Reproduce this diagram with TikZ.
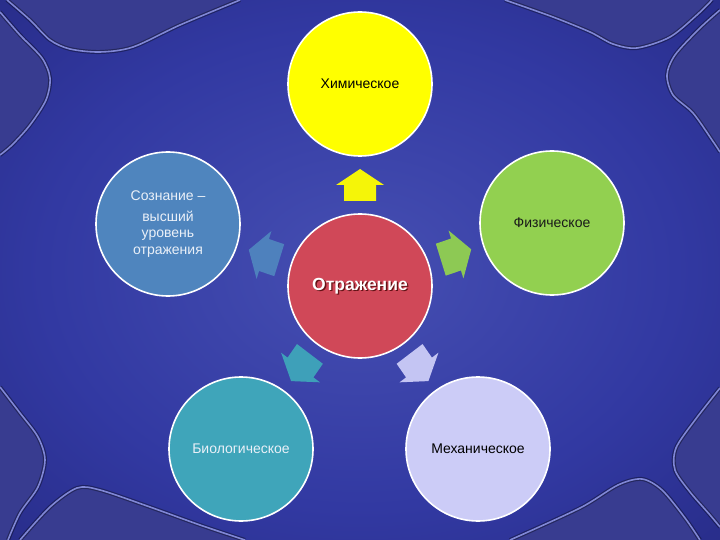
\documentclass[tikz,border=0pt]{standalone}
\usepackage{fontspec}
\setmainfont{Liberation Sans}
\usetikzlibrary{calc}
\definecolor{bgin}{HTML}{464FB2}
\definecolor{bgmid}{HTML}{3239A2}
\definecolor{bgout}{HTML}{1D1F6E}
\definecolor{tabfill}{HTML}{383C90}
\definecolor{tabedge}{HTML}{8087D6}
\definecolor{cyellow}{HTML}{FFFF00}
\definecolor{cgreen}{HTML}{92D050}
\definecolor{cblue}{HTML}{4F85BE}
\definecolor{cred}{HTML}{D04858}
\definecolor{cteal}{HTML}{3FA5BA}
\definecolor{clav}{HTML}{CCCCF7}
\definecolor{lighttext}{HTML}{EAF0F8}
\pgfdeclareradialshading{bgshade}{\pgfpoint{0bp}{0bp}}{color(0bp)=(bgin); color(22bp)=(bgmid); color(52bp)=(bgout); color(80bp)=(bgout)}
\tikzset{
  circ/.style={circle, draw=white, line width=1.6pt, minimum size=144pt, inner sep=0pt, align=center, font=\fontsize{14}{16.5}\selectfont},
  tab/.style={fill=tabfill},
  tabline/.style={draw=tabedge, line width=1.6pt},
  tabshadow/.style={draw=black, opacity=0.35, line width=4pt},
  blockarrow/.style={fill opacity=0.95},
  bigtext/.style={font=\bfseries\fontsize{17.5}{20}\selectfont}
}
\newcommand{\arrowpath}{(0,-16) -- (24,0) -- (16,0) -- (16,16) -- (-16,16) -- (-16,0) -- (-24,0) -- cycle}
\begin{document}
\begin{tikzpicture}[x=1pt,y=-1pt]
\useasboundingbox (0,0) rectangle (720,540);
\shade[shading=bgshade] (0,0) rectangle (720,540);
% decorative tabs
\fill[tab] (0,12) -- plot[smooth] coordinates {(0,12)(20,35)(42,58)(50,78)(46,100)(30,125)(12,145)(0,155)} -- cycle;
\draw[tabshadow] plot[smooth] coordinates {(0,12)(20,35)(42,58)(50,78)(46,100)(30,125)(12,145)(0,155)};
\draw[tabline] plot[smooth] coordinates {(0,12)(20,35)(42,58)(50,78)(46,100)(30,125)(12,145)(0,155)};
\fill[tab] (0,0) -- plot[smooth] coordinates {(7,0)(30,20)(50,40)(70,49)(100,52)(133,47)(180,25)(240,0)} -- cycle;
\draw[tabshadow] plot[smooth] coordinates {(7,0)(30,20)(50,40)(70,49)(100,52)(133,47)(180,25)(240,0)};
\draw[tabline] plot[smooth] coordinates {(7,0)(30,20)(50,40)(70,49)(100,52)(133,47)(180,25)(240,0)};
\fill[tab] (0,387) -- plot[smooth] coordinates {(0,387)(20,413)(38,437)(45,460)(38,487)(20,513)(8,540)} -- (0,540) -- cycle;
\draw[tabshadow] plot[smooth] coordinates {(0,387)(20,413)(38,437)(45,460)(38,487)(20,513)(8,540)};
\draw[tabline] plot[smooth] coordinates {(0,387)(20,413)(38,437)(45,460)(38,487)(20,513)(8,540)};
\fill[tab] (20,540) -- plot[smooth] coordinates {(20,540)(50,507)(77,488)(100,490)(150,507)(200,525)(245,540)} -- cycle;
\draw[tabshadow] plot[smooth] coordinates {(20,540)(50,507)(77,488)(100,490)(150,507)(200,525)(245,540)};
\draw[tabline] plot[smooth] coordinates {(20,540)(50,507)(77,488)(100,490)(150,507)(200,525)(245,540)};
\fill[tab] (720,10) -- plot[smooth] coordinates {(720,10)(700,28)(675,55)(667,75)(673,95)(693,113)(712,140)(720,152)} -- cycle;
\draw[tabshadow] plot[smooth] coordinates {(720,10)(700,28)(675,55)(667,75)(673,95)(693,113)(712,140)(720,152)};
\draw[tabline] plot[smooth] coordinates {(720,10)(700,28)(675,55)(667,75)(673,95)(693,113)(712,140)(720,152)};
\fill[tab] (505,0) -- plot[smooth] coordinates {(505,0)(553,17)(590,32)(613,44)(637,48)(670,37)(698,14)(712,0)} -- cycle;
\draw[tabshadow] plot[smooth] coordinates {(505,0)(553,17)(590,32)(613,44)(637,48)(670,37)(698,14)(712,0)};
\draw[tabline] plot[smooth] coordinates {(505,0)(553,17)(590,32)(613,44)(637,48)(670,37)(698,14)(712,0)};
\fill[tab] (720,388) -- plot[smooth] coordinates {(720,388)(695,420)(676,448)(675,470)(690,492)(710,515)(720,527)} -- (720,540) -- cycle;
\draw[tabshadow] plot[smooth] coordinates {(720,388)(695,420)(676,448)(675,470)(690,492)(710,515)(720,527)};
\draw[tabline] plot[smooth] coordinates {(720,388)(695,420)(676,448)(675,470)(690,492)(710,515)(720,527)};
\fill[tab] (510,540) -- plot[smooth] coordinates {(510,540)(580,508)(618,485)(642,479)(662,490)(685,518)(700,540)} -- cycle;
\draw[tabshadow] plot[smooth] coordinates {(510,540)(580,508)(618,485)(642,479)(662,490)(685,518)(700,540)};
\draw[tabline] plot[smooth] coordinates {(510,540)(580,508)(618,485)(642,479)(662,490)(685,518)(700,540)};
% circles
\node[circ, fill=cyellow, text=black] (chem) at (360,84) {Химическое};
\node[circ, fill=cgreen, text=black!90] (phys) at (552,223) {Физическое};
\node[circ, fill=cblue, text=lighttext] (mind) at (168,224) {Сознание –\\[4.5pt]высший\\уровень\\отражения};
\node[circ, fill=cteal, text=lighttext] (bio) at (241,449) {Биологическое};
\node[circ, fill=clav, text=black] (mech) at (478,449) {Механическое};
\node[circ, fill=cred] (ctr) at (360,286) {};
\node[bigtext, text=black!75!red, opacity=0.75] (ctrshadow) at ([shift={(1.3,1.3)}]ctr.center) {Отражение};
\node[bigtext, text=white] (ctrlabel) at (ctr.center) {Отражение};
% block arrows
\coordinate (a1) at ($(ctr.center)!0.5!(chem.center)$);
\coordinate (a2) at ($(ctr.center)!0.5!(phys.center)$);
\coordinate (a3) at ($(ctr.center)!0.5!(mech.center)$);
\coordinate (a4) at ($(ctr.center)!0.5!(bio.center)$);
\coordinate (a5) at ($(ctr.center)!0.5!(mind.center)$);
\fill[blockarrow, cyellow, shift={(a1)}] \arrowpath;
\fill[blockarrow, cgreen, shift={(a2)}, yscale=1.05, rotate=-72] \arrowpath;
\fill[blockarrow, clav, shift={(a3)}, yscale=1.05, rotate=-144] \arrowpath;
\fill[blockarrow, cteal, shift={(a4)}, yscale=1.05, rotate=144] \arrowpath;
\fill[blockarrow, cblue, shift={(a5)}, yscale=1.05, rotate=72] \arrowpath;
\end{tikzpicture}
\end{document}
